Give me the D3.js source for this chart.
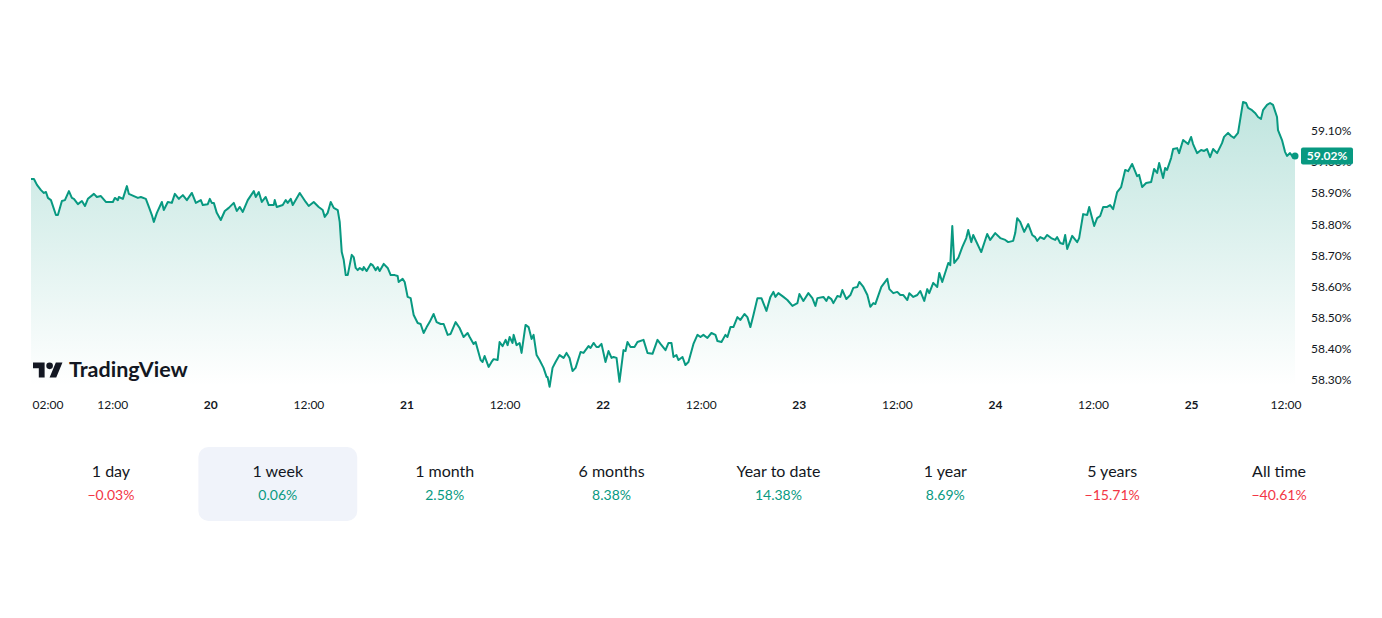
<!DOCTYPE html>
<html><head><meta charset="utf-8">
<script src="https://cdn.jsdelivr.net/npm/d3@7"></script>
<style>
html,body{margin:0;padding:0;background:#fff;}
svg{display:block;font-family:"Trebuchet MS","Lato","Liberation Sans",sans-serif;}
</style></head><body>
<svg id="c" width="1382" height="618"></svg>
<script>
// hours since day 19 00:00, value in %
const series = [
[2.0,58.946],[2.36,58.946],[2.73,58.927],[3.22,58.910],[3.58,58.901],[3.83,58.904],[4.07,58.885],[4.44,58.878],[5.05,58.830],[5.29,58.830],
[5.78,58.875],[6.15,58.878],[6.64,58.907],[7.0,58.885],[7.25,58.882],[7.74,58.865],[8.23,58.875],[8.6,58.859],[8.96,58.882],[9.7,58.898],
[10.06,58.888],[10.55,58.891],[11.16,58.872],[12.02,58.872],[12.26,58.885],[12.63,58.878],[12.75,58.888],[13.24,58.882],[13.73,58.923],[13.97,58.898],
[14.59,58.891],[15.08,58.885],[15.44,58.888],[16.05,58.882],[16.42,58.856],[16.79,58.830],[17.03,58.808],[17.4,58.837],[18.01,58.872],[18.25,58.846],
[18.74,58.872],[19.23,58.869],[19.6,58.898],[20.09,58.882],[20.58,58.894],[21.07,58.878],[21.68,58.901],[22.17,58.869],[22.78,58.878],[23.02,58.862],
[23.63,58.865],[23.88,58.882],[24.12,58.869],[24.37,58.869],[24.73,58.837],[25.22,58.814],[25.71,58.843],[26.2,58.853],[26.81,58.869],[27.18,58.843],
[27.55,58.856],[27.91,58.840],[28.52,58.878],[29.26,58.907],[29.5,58.888],[29.87,58.904],[30.24,58.872],[30.72,58.888],[31.09,58.862],[31.7,58.862],
[31.82,58.878],[32.07,58.856],[32.8,58.862],[33.17,58.878],[33.41,58.869],[33.78,58.882],[34.03,58.862],[34.88,58.901],[35.61,58.872],[35.98,58.859],
[36.59,58.872],[37.2,58.856],[37.69,58.846],[37.94,58.824],[38.3,58.837],[38.67,58.872],[39.04,58.853],[39.53,58.846],[39.77,58.808],[40.02,58.711],
[40.26,58.686],[40.51,58.637],[40.75,58.637],[41.24,58.702],[41.48,58.695],[41.73,58.660],[41.97,58.653],[42.22,58.660],[42.58,58.653],[42.71,58.663],
[43.07,58.650],[43.56,58.673],[43.81,58.669],[44.17,58.653],[44.42,58.663],[44.66,58.650],[45.15,58.673],[45.64,58.660],[46.01,58.637],[46.5,58.637],
[46.86,58.634],[46.98,58.615],[47.47,58.625],[47.72,58.615],[48.08,58.567],[48.45,58.563],[48.82,58.509],[49.31,58.483],[49.67,58.480],[50.04,58.451],
[50.41,58.470],[50.77,58.486],[51.26,58.512],[51.63,58.486],[52.12,58.480],[52.49,58.480],[52.98,58.445],[53.34,58.448],[53.95,58.486],[54.44,58.467],
[54.93,58.438],[55.42,58.451],[55.67,58.438],[56.15,58.416],[56.4,58.422],[57.01,58.364],[57.25,58.358],[57.5,58.377],[57.99,58.342],[58.35,58.358],
[58.6,58.367],[59.09,58.364],[59.33,58.422],[59.7,58.409],[60.07,58.429],[60.31,58.412],[60.56,58.438],[60.92,58.419],[61.05,58.445],[61.41,58.412],
[61.78,58.419],[62.02,58.387],[62.51,58.477],[62.88,58.470],[63.25,58.432],[63.49,58.445],[63.86,58.380],[64.22,58.364],[64.71,58.339],[65.08,58.310],
[65.2,58.310],[65.45,58.278],[65.81,58.339],[66.18,58.358],[66.67,58.380],[67.16,58.371],[67.52,58.387],[67.89,58.371],[68.26,58.329],[68.63,58.339],
[69.24,58.390],[69.6,58.387],[70.21,58.409],[70.46,58.403],[70.83,58.419],[71.19,58.406],[71.44,58.406],[71.8,58.416],[72.29,58.358],[72.66,58.393],
[73.03,58.371],[73.27,58.374],[73.64,58.371],[74.0,58.294],[74.49,58.396],[74.74,58.393],[74.98,58.422],[75.35,58.406],[75.84,58.406],[76.2,58.422],
[76.94,58.429],[77.43,58.387],[78.04,58.384],[78.65,58.429],[79.02,58.416],[79.63,58.396],[80.0,58.419],[80.36,58.419],[80.61,58.374],[80.97,58.380],
[81.22,58.364],[81.71,58.374],[82.07,58.348],[82.44,58.358],[83.05,58.416],[83.54,58.445],[83.91,58.438],[84.27,58.445],[84.76,58.435],[85.25,58.451],
[85.74,58.445],[85.99,58.425],[86.48,58.422],[86.96,58.445],[87.21,58.438],[87.58,58.470],[87.94,58.470],[88.43,58.502],[88.8,58.493],[89.29,58.512],
[89.65,58.502],[90.02,58.470],[90.39,58.509],[90.88,58.563],[91.37,58.563],[91.98,58.522],[92.47,58.567],[92.83,58.583],[93.08,58.567],[93.44,58.579],
[94.06,58.567],[94.54,58.557],[95.16,58.538],[95.77,58.547],[96.01,58.576],[96.5,58.554],[97.11,58.579],[97.6,58.563],[97.97,58.538],[98.21,58.563],
[98.95,58.567],[99.31,58.554],[99.56,58.567],[99.92,58.560],[100.17,58.547],[100.66,58.570],[101.02,58.567],[101.27,58.589],[101.76,58.560],[102.25,58.573],
[102.61,58.596],[103.1,58.599],[103.35,58.615],[103.84,58.599],[104.33,58.573],[104.69,58.535],[105.06,58.547],[105.3,58.544],[106.04,58.599],[106.77,58.625],
[107.02,58.592],[107.5,58.579],[107.99,58.583],[108.36,58.573],[108.73,58.573],[109.22,58.557],[109.46,58.579],[109.95,58.567],[110.44,58.573],[110.8,58.586],
[111.29,58.554],[111.66,58.592],[111.9,58.579],[112.39,58.612],[112.88,58.599],[113.13,58.644],[113.49,58.615],[114.23,58.676],[114.47,58.669],[114.72,58.795],
[114.96,58.676],[115.45,58.692],[115.94,58.727],[116.43,58.756],[116.67,58.782],[117.04,58.743],[117.28,58.766],[118.26,58.711],[118.99,58.769],[119.36,58.750],
[119.97,58.772],[120.59,58.756],[121.2,58.750],[121.56,58.743],[122.17,58.747],[122.42,58.772],[122.66,58.820],[123.03,58.808],[123.52,58.776],[124.01,58.801],
[124.5,58.766],[124.86,58.759],[125.11,58.747],[125.48,58.759],[125.96,58.753],[126.33,58.766],[126.82,58.756],[127.31,58.750],[127.55,58.759],[127.92,58.740],
[128.29,58.737],[128.53,58.766],[128.78,58.721],[129.39,58.763],[130.0,58.743],[130.24,58.756],[130.73,58.833],[131.22,58.830],[131.47,58.856],[132.08,58.795],
[132.44,58.820],[132.81,58.827],[133.18,58.856],[133.67,58.856],[134.03,58.862],[134.4,58.849],[134.89,58.904],[135.38,58.920],[135.87,58.975],[136.23,58.971],
[136.72,58.994],[137.33,58.955],[137.58,58.959],[137.95,58.920],[138.44,58.933],[139.05,58.936],[139.41,58.978],[139.78,58.965],[140.03,58.997],[140.51,58.949],
[140.76,58.981],[141.0,58.975],[141.49,59.013],[141.74,59.042],[142.23,59.045],[142.47,59.029],[142.96,59.071],[143.57,59.058],[143.94,59.081],[144.18,59.058],
[144.67,59.029],[145.16,59.039],[145.53,59.036],[145.89,59.042],[146.26,59.016],[146.63,59.042],[147.12,59.029],[147.72,59.061],[147.97,59.081],[148.46,59.094],
[148.83,59.084],[149.19,59.078],[149.68,59.094],[150.29,59.193],[150.66,59.190],[150.91,59.174],[151.39,59.167],[151.76,59.158],[152.13,59.145],[152.49,59.139],
[152.74,59.167],[153.23,59.184],[153.6,59.190],[153.96,59.184],[154.45,59.145],[154.57,59.103],[155.06,59.071],[155.43,59.033],[155.67,59.020],[156.04,59.029],
[156.41,59.016],[156.65,59.020]
];
const lastValue = 59.02;
const yTicks = [58.30, 58.40, 58.50, 58.60, 58.70, 58.80, 58.90, 59.00, 59.10];
const xTickHours  = [2, 12, 24, 36, 48, 60, 72, 84, 96, 108, 120, 132, 144, 156];
const xTickLabels = ["02:00","12:00","20","12:00","21","12:00","22","12:00","23","12:00","24","12:00","25","12:00"];
const periods = ["1 day","1 week","1 month","6 months","Year to date","1 year","5 years","All time"];
const changes = [-0.03, 0.06, 2.58, 8.38, 14.38, 8.69, -15.71, -40.61];
const selectedPeriod = "1 week";

const GREEN = "#089981", RED = "#f23645", TEXT = "#131722";
const svg = d3.select("#c");
const base = new Date(2024, 2, 19, 0, 0, 0);
const toDate = h => new Date(base.getTime() + h * 3600e3);
const data = series.map(([h, v]) => ({t: toDate(h), v}));

const plotL = 31, plotR = 1295, plotBottom = 386;
const x = d3.scaleTime().domain(d3.extent(data, d => d.t)).range([plotL, plotR]);
const y = d3.scaleLinear().domain([58.30, 59.10]).range([380, 131]);

// gradient
const defs = svg.append("defs");
const grad = defs.append("linearGradient").attr("id", "g")
  .attr("gradientUnits", "userSpaceOnUse").attr("x1", 0).attr("x2", 0).attr("y1", 100).attr("y2", plotBottom);
grad.append("stop").attr("offset", 0).attr("stop-color", GREEN).attr("stop-opacity", 0.26);
grad.append("stop").attr("offset", 1).attr("stop-color", GREEN).attr("stop-opacity", 0.0);

svg.append("path").datum(data)
  .attr("d", d3.area().x(d => x(d.t)).y0(plotBottom).y1(d => y(d.v)))
  .attr("fill", "url(#g)");
svg.append("path").datum(data)
  .attr("d", d3.line().x(d => x(d.t)).y(d => y(d.v)))
  .attr("fill", "none").attr("stroke", GREEN).attr("stroke-width", 2).attr("stroke-linejoin", "round");
const last = data[data.length - 1];
svg.append("circle").attr("cx", x(last.t)).attr("cy", y(last.v)).attr("r", 3.5).attr("fill", GREEN);

// y axis labels
const yAxis = svg.append("g").attr("transform", "translate(1311,0)");
yAxis.selectAll("text").data(yTicks).join("text")
  .attr("x", 0).attr("y", d => y(d)).attr("dy", "0.35em")
  .attr("font-size", 12).attr("fill", TEXT)
  .text(d => d3.format(".2f")(d) + "%");
// last value badge
const by = y(lastValue);
svg.append("rect").attr("x", 1301).attr("y", by - 8.5).attr("width", 52).attr("height", 17).attr("rx", 2).attr("fill", GREEN);
svg.append("text").attr("x", 1327).attr("y", by).attr("dy", "0.35em").attr("text-anchor", "middle")
  .attr("font-size", 12).attr("font-weight", "bold").attr("fill", "#fff").text(d3.format(".2f")(lastValue) + "%");

// x axis labels
const xAxis = svg.append("g");
xAxis.selectAll("text").data(xTickHours).join("text")
  .attr("x", h => Math.max(plotL + 17, Math.min(plotR - 9, x(toDate(h)))))
  .attr("y", 405).attr("dy", "0.35em").attr("text-anchor", "middle")
  .attr("font-size", 12).attr("fill", TEXT)
  .attr("font-weight", (h, i) => xTickLabels[i].includes(":") ? "normal" : "bold")
  .text((h, i) => xTickLabels[i]);

// TradingView logo
const logo = svg.append("g").attr("transform", "translate(33,359.2) scale(0.83)").attr("fill", TEXT);
logo.append("path").attr("d", "M14 22H7V11H0V4h14v18zM28 22h-8l7.5-18h8L28 22z");
logo.append("circle").attr("cx", 20).attr("cy", 8).attr("r", 4);
svg.append("text").attr("x", 69).attr("y", 377).attr("font-size", 21.5).attr("font-weight", "bold")
  .attr("fill", TEXT).text("TradingView");

// period tabs
const band = d3.scaleBand().domain(periods).range([27.5, 1362.5]).paddingInner(0.048).paddingOuter(0.024);
const tabs = svg.append("g").selectAll("g").data(periods).join("g")
  .attr("transform", p => `translate(${band(p)},447)`);
tabs.filter(p => p === selectedPeriod).append("rect")
  .attr("width", band.bandwidth()).attr("height", 74).attr("rx", 10).attr("fill", "#f0f3fa");
tabs.append("text").attr("x", band.bandwidth() / 2).attr("y", 24).attr("dy", "0.35em")
  .attr("text-anchor", "middle").attr("font-size", 16).attr("fill", TEXT).text(p => p);
tabs.append("text").attr("x", band.bandwidth() / 2).attr("y", 48).attr("dy", "0.35em")
  .attr("text-anchor", "middle").attr("font-size", 14)
  .attr("fill", (p, i) => changes[i] < 0 ? RED : GREEN)
  .text((p, i) => d3.format(".2f")(changes[i]) + "%");
</script>
</body></html>
